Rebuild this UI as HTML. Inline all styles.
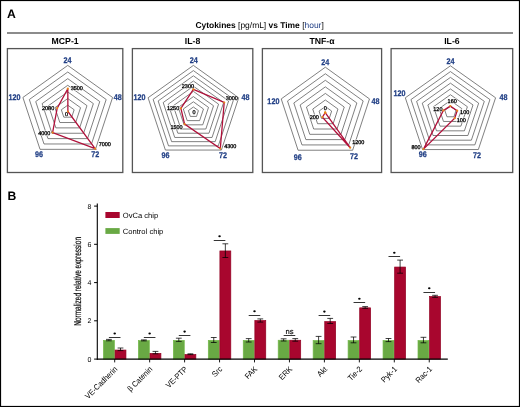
<!DOCTYPE html>
<html><head><meta charset="utf-8"><style>
html,body{margin:0;padding:0;background:#fff;}
svg{display:block;font-family:"Liberation Sans",sans-serif;-webkit-font-smoothing:antialiased;will-change:transform;text-rendering:geometricPrecision;}
</style></head><body>
<svg width="520" height="407" viewBox="0 0 520 407">
<rect x="0.5" y="0.5" width="519" height="406" fill="none" stroke="#000" stroke-width="1.2"/>
<text x="7.1" y="17.7" font-size="12.2" font-weight="bold">A</text>
<text x="259.6" y="27.6" font-size="8.45" text-anchor="middle"><tspan font-weight="bold">Cytokines </tspan>[pg/mL]<tspan font-weight="bold"> vs Time </tspan>[<tspan fill="#213f85">hour</tspan>]</text>
<line x1="7" y1="33.0" x2="513" y2="33.0" stroke="#666" stroke-width="1.6"/>
<rect x="7.4" y="48.6" width="115.4" height="123.9" fill="none" stroke="#555" stroke-width="1.3"/>
<text x="65.1" y="43.7" font-size="8.7" font-weight="bold" text-anchor="middle">MCP-1</text>
<rect x="132.4" y="48.6" width="120.4" height="123.9" fill="none" stroke="#555" stroke-width="1.3"/>
<text x="192.6" y="43.7" font-size="8.7" font-weight="bold" text-anchor="middle">IL-8</text>
<rect x="262.4" y="48.6" width="119.2" height="123.9" fill="none" stroke="#555" stroke-width="1.3"/>
<text x="322.0" y="43.7" font-size="8.7" font-weight="bold" text-anchor="middle">TNF-α</text>
<rect x="391.1" y="48.6" width="121.6" height="123.9" fill="none" stroke="#555" stroke-width="1.3"/>
<text x="451.9" y="43.7" font-size="8.7" font-weight="bold" text-anchor="middle">IL-6</text>
<polygon points="67.75,105.17 74.16,109.75 71.71,117.16 63.79,117.16 61.34,109.75" fill="none" stroke="#555" stroke-width="0.75"/>
<polygon points="67.75,98.54 80.56,107.70 75.67,122.53 59.83,122.53 54.94,107.70" fill="none" stroke="#555" stroke-width="0.75"/>
<polygon points="67.75,91.91 86.97,105.65 79.63,127.89 55.87,127.89 48.53,105.65" fill="none" stroke="#555" stroke-width="0.75"/>
<polygon points="67.75,85.29 93.37,103.61 83.58,133.25 51.92,133.25 42.13,103.61" fill="none" stroke="#555" stroke-width="0.75"/>
<polygon points="67.75,78.66 99.78,101.56 87.54,138.61 47.96,138.61 35.72,101.56" fill="none" stroke="#555" stroke-width="0.75"/>
<polygon points="67.75,72.03 106.18,99.51 91.50,143.98 44.00,143.98 29.32,99.51" fill="none" stroke="#555" stroke-width="0.75"/>
<polygon points="67.75,65.40 112.59,97.46 95.46,149.34 40.04,149.34 22.91,97.46" fill="none" stroke="#555" stroke-width="0.75"/>
<text transform="translate(67.55,63.00) scale(0.88,1)" font-size="8.2" font-weight="bold" fill="#213f85" stroke="#213f85" stroke-width="0.25" text-anchor="middle">24</text>
<text transform="translate(113.80,99.80) scale(0.88,1)" font-size="8.2" font-weight="bold" fill="#213f85" stroke="#213f85" stroke-width="0.25" text-anchor="start">48</text>
<text transform="translate(95.20,156.90) scale(0.88,1)" font-size="8.2" font-weight="bold" fill="#213f85" stroke="#213f85" stroke-width="0.25" text-anchor="middle">72</text>
<text transform="translate(39.05,156.70) scale(0.88,1)" font-size="8.2" font-weight="bold" fill="#213f85" stroke="#213f85" stroke-width="0.25" text-anchor="middle">96</text>
<text transform="translate(20.50,100.20) scale(0.88,1)" font-size="8.2" font-weight="bold" fill="#213f85" stroke="#213f85" stroke-width="0.25" text-anchor="end">120</text>
<text x="70.7" y="89.6" font-size="5.5" fill="#fff" stroke="#fff" stroke-width="1.2">3500</text>
<text x="70.7" y="89.6" font-size="5.5" stroke="#000" stroke-width="0.3">3500</text>
<text x="42.0" y="109.9" font-size="5.5" fill="#fff" stroke="#fff" stroke-width="1.2">2080</text>
<text x="42.0" y="109.9" font-size="5.5" stroke="#000" stroke-width="0.3">2080</text>
<text x="64.9" y="115.6" font-size="5.5" fill="#fff" stroke="#fff" stroke-width="1.2">0</text>
<text x="64.9" y="115.6" font-size="5.5" stroke="#000" stroke-width="0.3">0</text>
<text x="38.2" y="134.8" font-size="5.5" fill="#fff" stroke="#fff" stroke-width="1.2">4000</text>
<text x="38.2" y="134.8" font-size="5.5" stroke="#000" stroke-width="0.3">4000</text>
<text x="98.7" y="146.1" font-size="5.5" fill="#fff" stroke="#fff" stroke-width="1.2">7000</text>
<text x="98.7" y="146.1" font-size="5.5" stroke="#000" stroke-width="0.3">7000</text>
<polygon points="67.80,88.70 67.90,111.50 95.10,148.60 52.60,132.60 57.20,108.10" fill="none" stroke="#b0103a" stroke-width="1.3" stroke-linejoin="miter"/>
<circle cx="67.80" cy="88.70" r="1.1" fill="#e8841a"/>
<circle cx="67.90" cy="111.50" r="1.1" fill="#e8841a"/>
<circle cx="95.10" cy="148.60" r="1.1" fill="#e8841a"/>
<circle cx="52.60" cy="132.60" r="1.1" fill="#e8841a"/>
<circle cx="57.20" cy="108.10" r="1.1" fill="#e8841a"/>
<polygon points="193.40,107.00 198.43,110.59 196.51,116.41 190.29,116.41 188.37,110.59" fill="none" stroke="#555" stroke-width="0.75"/>
<polygon points="193.40,101.80 203.47,108.99 199.62,120.61 187.18,120.61 183.33,108.99" fill="none" stroke="#555" stroke-width="0.75"/>
<polygon points="193.40,96.60 208.50,107.38 202.73,124.82 184.07,124.82 178.30,107.38" fill="none" stroke="#555" stroke-width="0.75"/>
<polygon points="193.40,91.40 213.54,105.77 205.85,129.03 180.95,129.03 173.26,105.77" fill="none" stroke="#555" stroke-width="0.75"/>
<polygon points="193.40,86.20 218.57,104.17 208.96,133.23 177.84,133.23 168.23,104.17" fill="none" stroke="#555" stroke-width="0.75"/>
<polygon points="193.40,81.00 223.61,102.56 212.07,137.44 174.73,137.44 163.19,102.56" fill="none" stroke="#555" stroke-width="0.75"/>
<polygon points="193.40,75.80 228.64,100.95 215.18,141.65 171.62,141.65 158.16,100.95" fill="none" stroke="#555" stroke-width="0.75"/>
<polygon points="193.40,70.60 233.68,99.34 218.29,145.86 168.51,145.86 153.12,99.34" fill="none" stroke="#555" stroke-width="0.75"/>
<polygon points="193.40,65.40 238.71,97.74 221.40,150.06 165.40,150.06 148.09,97.74" fill="none" stroke="#555" stroke-width="0.75"/>
<text transform="translate(193.65,63.00) scale(0.88,1)" font-size="8.2" font-weight="bold" fill="#213f85" stroke="#213f85" stroke-width="0.25" text-anchor="middle">24</text>
<text transform="translate(241.50,99.70) scale(0.88,1)" font-size="8.2" font-weight="bold" fill="#213f85" stroke="#213f85" stroke-width="0.25" text-anchor="start">48</text>
<text transform="translate(223.10,157.90) scale(0.88,1)" font-size="8.2" font-weight="bold" fill="#213f85" stroke="#213f85" stroke-width="0.25" text-anchor="middle">72</text>
<text transform="translate(165.45,157.80) scale(0.88,1)" font-size="8.2" font-weight="bold" fill="#213f85" stroke="#213f85" stroke-width="0.25" text-anchor="middle">96</text>
<text transform="translate(145.60,99.70) scale(0.88,1)" font-size="8.2" font-weight="bold" fill="#213f85" stroke="#213f85" stroke-width="0.25" text-anchor="end">120</text>
<text x="181.8" y="87.5" font-size="5.5" fill="#fff" stroke="#fff" stroke-width="1.2">2300</text>
<text x="181.8" y="87.5" font-size="5.5" stroke="#000" stroke-width="0.3">2300</text>
<text x="225.7" y="100.1" font-size="5.5" fill="#fff" stroke="#fff" stroke-width="1.2">3000</text>
<text x="225.7" y="100.1" font-size="5.5" stroke="#000" stroke-width="0.3">3000</text>
<text x="224.2" y="148.3" font-size="5.5" fill="#fff" stroke="#fff" stroke-width="1.2">4300</text>
<text x="224.2" y="148.3" font-size="5.5" stroke="#000" stroke-width="0.3">4300</text>
<text x="170.4" y="129.2" font-size="5.5" fill="#fff" stroke="#fff" stroke-width="1.2">1500</text>
<text x="170.4" y="129.2" font-size="5.5" stroke="#000" stroke-width="0.3">1500</text>
<text x="167.0" y="110.0" font-size="5.5" fill="#fff" stroke="#fff" stroke-width="1.2">1250</text>
<text x="167.0" y="110.0" font-size="5.5" stroke="#000" stroke-width="0.3">1250</text>
<text x="192.6" y="114.0" font-size="5.5" fill="#fff" stroke="#fff" stroke-width="1.2">0</text>
<text x="192.6" y="114.0" font-size="5.5" stroke="#000" stroke-width="0.3">0</text>
<polygon points="193.40,89.40 224.20,102.50 220.30,148.50 184.60,124.10 180.90,108.30" fill="none" stroke="#b0103a" stroke-width="1.3" stroke-linejoin="miter"/>
<circle cx="193.40" cy="89.40" r="1.1" fill="#e8841a"/>
<circle cx="224.20" cy="102.50" r="1.1" fill="#e8841a"/>
<circle cx="220.30" cy="148.50" r="1.1" fill="#e8841a"/>
<circle cx="184.60" cy="124.10" r="1.1" fill="#e8841a"/>
<circle cx="180.90" cy="108.30" r="1.1" fill="#e8841a"/>
<polygon points="325.35,106.54 331.65,111.07 329.25,118.40 321.45,118.40 319.05,111.07" fill="none" stroke="#555" stroke-width="0.75"/>
<polygon points="325.35,99.99 337.96,109.05 333.14,123.71 317.56,123.71 312.74,109.05" fill="none" stroke="#555" stroke-width="0.75"/>
<polygon points="325.35,93.43 344.26,107.02 337.04,129.01 313.66,129.01 306.44,107.02" fill="none" stroke="#555" stroke-width="0.75"/>
<polygon points="325.35,86.87 350.57,104.99 340.94,134.32 309.76,134.32 300.13,104.99" fill="none" stroke="#555" stroke-width="0.75"/>
<polygon points="325.35,80.31 356.87,102.97 344.83,139.62 305.87,139.62 293.83,102.97" fill="none" stroke="#555" stroke-width="0.75"/>
<polygon points="325.35,73.76 363.18,100.94 348.73,144.93 301.97,144.93 287.52,100.94" fill="none" stroke="#555" stroke-width="0.75"/>
<polygon points="325.35,67.20 369.48,98.92 352.63,150.23 298.07,150.23 281.22,98.92" fill="none" stroke="#555" stroke-width="0.75"/>
<text transform="translate(325.20,64.60) scale(0.88,1)" font-size="8.2" font-weight="bold" fill="#213f85" stroke="#213f85" stroke-width="0.25" text-anchor="middle">24</text>
<text transform="translate(371.50,103.70) scale(0.88,1)" font-size="8.2" font-weight="bold" fill="#213f85" stroke="#213f85" stroke-width="0.25" text-anchor="start">48</text>
<text transform="translate(353.90,159.40) scale(0.88,1)" font-size="8.2" font-weight="bold" fill="#213f85" stroke="#213f85" stroke-width="0.25" text-anchor="middle">72</text>
<text transform="translate(297.85,159.60) scale(0.88,1)" font-size="8.2" font-weight="bold" fill="#213f85" stroke="#213f85" stroke-width="0.25" text-anchor="middle">96</text>
<text transform="translate(279.40,103.70) scale(0.88,1)" font-size="8.2" font-weight="bold" fill="#213f85" stroke="#213f85" stroke-width="0.25" text-anchor="end">120</text>
<text x="323.7" y="109.8" font-size="5.5" fill="#fff" stroke="#fff" stroke-width="1.2">0</text>
<text x="323.7" y="109.8" font-size="5.5" stroke="#000" stroke-width="0.3">0</text>
<text x="309.7" y="119.0" font-size="5.5" fill="#fff" stroke="#fff" stroke-width="1.2">200</text>
<text x="309.7" y="119.0" font-size="5.5" stroke="#000" stroke-width="0.3">200</text>
<text x="352.2" y="144.4" font-size="5.5" fill="#fff" stroke="#fff" stroke-width="1.2">1200</text>
<text x="352.2" y="144.4" font-size="5.5" stroke="#000" stroke-width="0.3">1200</text>
<polygon points="325.20,112.70 325.20,112.70 350.20,147.70 322.40,117.10 325.20,112.70" fill="none" stroke="#b0103a" stroke-width="1.3" stroke-linejoin="miter"/>
<circle cx="325.20" cy="112.70" r="1.1" fill="#e8841a"/>
<circle cx="325.20" cy="112.70" r="1.1" fill="#e8841a"/>
<circle cx="350.20" cy="147.70" r="1.1" fill="#e8841a"/>
<circle cx="322.40" cy="117.10" r="1.1" fill="#e8841a"/>
<circle cx="325.20" cy="112.70" r="1.1" fill="#e8841a"/>
<polygon points="450.45,106.31 456.09,110.31 453.94,116.78 446.96,116.78 444.81,110.31" fill="none" stroke="#555" stroke-width="0.75"/>
<polygon points="450.45,100.52 461.73,108.52 457.42,121.46 443.48,121.46 439.17,108.52" fill="none" stroke="#555" stroke-width="0.75"/>
<polygon points="450.45,94.74 467.38,106.73 460.91,126.15 439.99,126.15 433.52,106.73" fill="none" stroke="#555" stroke-width="0.75"/>
<polygon points="450.45,88.95 473.02,104.95 464.40,130.83 436.50,130.83 427.88,104.95" fill="none" stroke="#555" stroke-width="0.75"/>
<polygon points="450.45,83.16 478.66,103.16 467.88,135.51 433.02,135.51 422.24,103.16" fill="none" stroke="#555" stroke-width="0.75"/>
<polygon points="450.45,77.38 484.30,101.37 471.37,140.19 429.53,140.19 416.60,101.37" fill="none" stroke="#555" stroke-width="0.75"/>
<polygon points="450.45,71.59 489.94,99.58 474.86,144.88 426.04,144.88 410.96,99.58" fill="none" stroke="#555" stroke-width="0.75"/>
<polygon points="450.45,65.80 495.58,97.79 478.34,149.56 422.56,149.56 405.32,97.79" fill="none" stroke="#555" stroke-width="0.75"/>
<text transform="translate(450.40,63.80) scale(0.88,1)" font-size="8.2" font-weight="bold" fill="#213f85" stroke="#213f85" stroke-width="0.25" text-anchor="middle">24</text>
<text transform="translate(499.50,99.70) scale(0.88,1)" font-size="8.2" font-weight="bold" fill="#213f85" stroke="#213f85" stroke-width="0.25" text-anchor="start">48</text>
<text transform="translate(477.00,157.70) scale(0.88,1)" font-size="8.2" font-weight="bold" fill="#213f85" stroke="#213f85" stroke-width="0.25" text-anchor="middle">72</text>
<text transform="translate(422.70,157.00) scale(0.88,1)" font-size="8.2" font-weight="bold" fill="#213f85" stroke="#213f85" stroke-width="0.25" text-anchor="middle">96</text>
<text transform="translate(405.60,95.60) scale(0.88,1)" font-size="8.2" font-weight="bold" fill="#213f85" stroke="#213f85" stroke-width="0.25" text-anchor="end">120</text>
<text x="447.6" y="103.3" font-size="5.5" fill="#fff" stroke="#fff" stroke-width="1.2">160</text>
<text x="447.6" y="103.3" font-size="5.5" stroke="#000" stroke-width="0.3">160</text>
<text x="433.3" y="111.1" font-size="5.5" fill="#fff" stroke="#fff" stroke-width="1.2">120</text>
<text x="433.3" y="111.1" font-size="5.5" stroke="#000" stroke-width="0.3">120</text>
<text x="460.1" y="113.7" font-size="5.5" fill="#fff" stroke="#fff" stroke-width="1.2">100</text>
<text x="460.1" y="113.7" font-size="5.5" stroke="#000" stroke-width="0.3">100</text>
<text x="456.7" y="121.5" font-size="5.5" fill="#fff" stroke="#fff" stroke-width="1.2">100</text>
<text x="456.7" y="121.5" font-size="5.5" stroke="#000" stroke-width="0.3">100</text>
<text x="411.4" y="148.7" font-size="5.5" fill="#fff" stroke="#fff" stroke-width="1.2">800</text>
<text x="411.4" y="148.7" font-size="5.5" stroke="#000" stroke-width="0.3">800</text>
<polygon points="450.30,106.10 457.20,110.70 454.70,118.20 423.50,149.10 443.40,110.40" fill="none" stroke="#b0103a" stroke-width="1.3" stroke-linejoin="miter"/>
<circle cx="450.30" cy="106.10" r="1.1" fill="#e8841a"/>
<circle cx="457.20" cy="110.70" r="1.1" fill="#e8841a"/>
<circle cx="454.70" cy="118.20" r="1.1" fill="#e8841a"/>
<circle cx="423.50" cy="149.10" r="1.1" fill="#e8841a"/>
<circle cx="443.40" cy="110.40" r="1.1" fill="#e8841a"/>
<text x="7.6" y="199.6" font-size="12.2" font-weight="bold">B</text>
<line x1="97.3" y1="203.5" x2="97.3" y2="359.70000000000005" stroke="#000" stroke-width="1.1"/>
<line x1="94.1" y1="359.1" x2="97.3" y2="359.1" stroke="#000" stroke-width="1"/>
<text x="91.3" y="361.6" font-size="7" text-anchor="end">0</text>
<line x1="94.1" y1="320.8" x2="97.3" y2="320.8" stroke="#000" stroke-width="1"/>
<text x="91.3" y="323.3" font-size="7" text-anchor="end">2</text>
<line x1="94.1" y1="282.6" x2="97.3" y2="282.6" stroke="#000" stroke-width="1"/>
<text x="91.3" y="285.1" font-size="7" text-anchor="end">4</text>
<line x1="94.1" y1="244.3" x2="97.3" y2="244.3" stroke="#000" stroke-width="1"/>
<text x="91.3" y="246.8" font-size="7" text-anchor="end">6</text>
<line x1="94.1" y1="206.1" x2="97.3" y2="206.1" stroke="#000" stroke-width="1"/>
<text x="91.3" y="208.6" font-size="7" text-anchor="end">8</text>
<text transform="translate(80.9,325.8) rotate(-90)" font-size="10" textLength="88.8" lengthAdjust="spacingAndGlyphs" stroke="#000" stroke-width="0.2">Normalized relative expression</text>
<rect x="105.4" y="212" width="14.3" height="6" fill="#a8062e"/>
<rect x="105.4" y="228.1" width="14.3" height="5.8" fill="#69a944"/>
<text x="122.8" y="217.8" font-size="7.6">OvCa chip</text>
<text x="122.8" y="233.9" font-size="7.6">Control chip</text>
<rect x="103.45" y="340.35" width="10.90" height="18.75" fill="#69a944" stroke="#72b947" stroke-width="0.7"/>
<rect x="115.05" y="350.05" width="10.90" height="9.05" fill="#a8062e" stroke="#920022" stroke-width="0.7"/>
<path d="M108.90,339.40V340.80M106.00,339.40h5.8M106.00,340.80h5.8" stroke="#000" stroke-width="0.75" fill="none"/>
<path d="M120.50,348.00V350.60M117.60,348.00h5.8M117.60,350.60h5.8" stroke="#000" stroke-width="0.75" fill="none"/>
<line x1="108.90" y1="337.5" x2="120.50" y2="337.5" stroke="#111" stroke-width="0.85"/>
<ellipse cx="114.70" cy="333.5" rx="1.25" ry="1.05" fill="#000"/>
<line x1="114.70" y1="359.1" x2="114.70" y2="362.40000000000003" stroke="#000" stroke-width="0.9"/>
<text transform="translate(118.00,369.7) rotate(-45) scale(0.92,1)" font-size="8.0" text-anchor="end">VE-Cadherin</text>
<rect x="138.40" y="340.65" width="10.90" height="18.45" fill="#69a944" stroke="#72b947" stroke-width="0.7"/>
<rect x="150.00" y="353.45" width="10.90" height="5.65" fill="#a8062e" stroke="#920022" stroke-width="0.7"/>
<path d="M143.85,339.90V340.90M140.95,339.90h5.8M140.95,340.90h5.8" stroke="#000" stroke-width="0.75" fill="none"/>
<path d="M155.45,351.40V353.80M152.55,351.40h5.8M152.55,353.80h5.8" stroke="#000" stroke-width="0.75" fill="none"/>
<line x1="143.85" y1="337.5" x2="155.45" y2="337.5" stroke="#111" stroke-width="0.85"/>
<ellipse cx="149.65" cy="333.5" rx="1.25" ry="1.05" fill="#000"/>
<line x1="149.65" y1="359.1" x2="149.65" y2="362.40000000000003" stroke="#000" stroke-width="0.9"/>
<text transform="translate(152.95,369.7) rotate(-45) scale(0.92,1)" font-size="8.0" text-anchor="end">β Catenin</text>
<rect x="173.35" y="340.45" width="10.90" height="18.65" fill="#69a944" stroke="#72b947" stroke-width="0.7"/>
<rect x="184.95" y="354.55" width="10.90" height="4.55" fill="#a8062e" stroke="#920022" stroke-width="0.7"/>
<path d="M178.80,338.20V341.40M175.90,338.20h5.8M175.90,341.40h5.8" stroke="#000" stroke-width="0.75" fill="none"/>
<path d="M190.40,353.80V354.60M187.50,353.80h5.8M187.50,354.60h5.8" stroke="#000" stroke-width="0.75" fill="none"/>
<line x1="178.80" y1="335.5" x2="190.40" y2="335.5" stroke="#111" stroke-width="0.85"/>
<ellipse cx="184.60" cy="331.6" rx="1.25" ry="1.05" fill="#000"/>
<line x1="184.60" y1="359.1" x2="184.60" y2="362.40000000000003" stroke="#000" stroke-width="0.9"/>
<text transform="translate(187.90,369.7) rotate(-45) scale(0.92,1)" font-size="8.0" text-anchor="end">VE-PTP</text>
<rect x="208.30" y="340.35" width="10.90" height="18.75" fill="#69a944" stroke="#72b947" stroke-width="0.7"/>
<rect x="219.90" y="250.95" width="10.90" height="108.15" fill="#a8062e" stroke="#920022" stroke-width="0.7"/>
<path d="M213.75,337.50V342.50M210.85,337.50h5.8M210.85,342.50h5.8" stroke="#000" stroke-width="0.75" fill="none"/>
<path d="M225.35,243.80V257.50M222.45,243.80h5.8M222.45,257.50h5.8" stroke="#000" stroke-width="0.75" fill="none"/>
<line x1="213.75" y1="240.5" x2="225.35" y2="240.5" stroke="#111" stroke-width="0.85"/>
<ellipse cx="219.55" cy="236.2" rx="1.25" ry="1.05" fill="#000"/>
<line x1="219.55" y1="359.1" x2="219.55" y2="362.40000000000003" stroke="#000" stroke-width="0.9"/>
<text transform="translate(222.85,369.7) rotate(-45) scale(0.92,1)" font-size="8.0" text-anchor="end">Src</text>
<rect x="243.25" y="340.45" width="10.90" height="18.65" fill="#69a944" stroke="#72b947" stroke-width="0.7"/>
<rect x="254.85" y="320.55" width="10.90" height="38.55" fill="#a8062e" stroke="#920022" stroke-width="0.7"/>
<path d="M248.70,338.60V342.00M245.80,338.60h5.8M245.80,342.00h5.8" stroke="#000" stroke-width="0.75" fill="none"/>
<path d="M260.30,318.90V322.10M257.40,318.90h5.8M257.40,322.10h5.8" stroke="#000" stroke-width="0.75" fill="none"/>
<line x1="248.70" y1="315.5" x2="260.30" y2="315.5" stroke="#111" stroke-width="0.85"/>
<ellipse cx="254.50" cy="311.3" rx="1.25" ry="1.05" fill="#000"/>
<line x1="254.50" y1="359.1" x2="254.50" y2="362.40000000000003" stroke="#000" stroke-width="0.9"/>
<text transform="translate(257.80,369.7) rotate(-45) scale(0.92,1)" font-size="8.0" text-anchor="end">FAK</text>
<rect x="278.20" y="340.25" width="10.90" height="18.85" fill="#69a944" stroke="#72b947" stroke-width="0.7"/>
<rect x="289.80" y="340.25" width="10.90" height="18.85" fill="#a8062e" stroke="#920022" stroke-width="0.7"/>
<path d="M283.65,338.80V341.00M280.75,338.80h5.8M280.75,341.00h5.8" stroke="#000" stroke-width="0.75" fill="none"/>
<path d="M295.25,338.60V341.20M292.35,338.60h5.8M292.35,341.20h5.8" stroke="#000" stroke-width="0.75" fill="none"/>
<line x1="283.65" y1="335.5" x2="295.25" y2="335.5" stroke="#111" stroke-width="0.85"/>
<text x="289.45" y="333.7" font-size="7.6" text-anchor="middle" stroke="#000" stroke-width="0.15">ns</text>
<line x1="289.45" y1="359.1" x2="289.45" y2="362.40000000000003" stroke="#000" stroke-width="0.9"/>
<text transform="translate(292.75,369.7) rotate(-45) scale(0.92,1)" font-size="8.0" text-anchor="end">ERK</text>
<rect x="313.15" y="340.55" width="10.90" height="18.55" fill="#69a944" stroke="#72b947" stroke-width="0.7"/>
<rect x="324.75" y="321.65" width="10.90" height="37.45" fill="#a8062e" stroke="#920022" stroke-width="0.7"/>
<path d="M318.60,336.40V343.70M315.70,336.40h5.8M315.70,343.70h5.8" stroke="#000" stroke-width="0.75" fill="none"/>
<path d="M330.20,318.40V323.50M327.30,318.40h5.8M327.30,323.50h5.8" stroke="#000" stroke-width="0.75" fill="none"/>
<line x1="318.60" y1="315.5" x2="330.20" y2="315.5" stroke="#111" stroke-width="0.85"/>
<ellipse cx="324.40" cy="311.6" rx="1.25" ry="1.05" fill="#000"/>
<line x1="324.40" y1="359.1" x2="324.40" y2="362.40000000000003" stroke="#000" stroke-width="0.9"/>
<text transform="translate(327.70,369.7) rotate(-45) scale(0.92,1)" font-size="8.0" text-anchor="end">Akt</text>
<rect x="348.10" y="340.55" width="10.90" height="18.55" fill="#69a944" stroke="#72b947" stroke-width="0.7"/>
<rect x="359.70" y="307.85" width="10.90" height="51.25" fill="#a8062e" stroke="#920022" stroke-width="0.7"/>
<path d="M353.55,337.00V342.80M350.65,337.00h5.8M350.65,342.80h5.8" stroke="#000" stroke-width="0.75" fill="none"/>
<path d="M365.15,306.60V308.30M362.25,306.60h5.8M362.25,308.30h5.8" stroke="#000" stroke-width="0.75" fill="none"/>
<line x1="353.55" y1="302.5" x2="365.15" y2="302.5" stroke="#111" stroke-width="0.85"/>
<ellipse cx="359.35" cy="298.7" rx="1.25" ry="1.05" fill="#000"/>
<line x1="359.35" y1="359.1" x2="359.35" y2="362.40000000000003" stroke="#000" stroke-width="0.9"/>
<text transform="translate(362.65,369.7) rotate(-45) scale(0.92,1)" font-size="8.0" text-anchor="end">Tie-2</text>
<rect x="383.05" y="340.55" width="10.90" height="18.55" fill="#69a944" stroke="#72b947" stroke-width="0.7"/>
<rect x="394.65" y="267.05" width="10.90" height="92.05" fill="#a8062e" stroke="#920022" stroke-width="0.7"/>
<path d="M388.50,338.50V341.60M385.60,338.50h5.8M385.60,341.60h5.8" stroke="#000" stroke-width="0.75" fill="none"/>
<path d="M400.10,260.10V273.20M397.20,260.10h5.8M397.20,273.20h5.8" stroke="#000" stroke-width="0.75" fill="none"/>
<line x1="388.50" y1="256.5" x2="400.10" y2="256.5" stroke="#111" stroke-width="0.85"/>
<ellipse cx="394.30" cy="252.8" rx="1.25" ry="1.05" fill="#000"/>
<line x1="394.30" y1="359.1" x2="394.30" y2="362.40000000000003" stroke="#000" stroke-width="0.9"/>
<text transform="translate(397.60,369.7) rotate(-45) scale(0.92,1)" font-size="8.0" text-anchor="end">Pyk-1</text>
<rect x="418.00" y="340.55" width="10.90" height="18.55" fill="#69a944" stroke="#72b947" stroke-width="0.7"/>
<rect x="429.60" y="296.55" width="10.90" height="62.55" fill="#a8062e" stroke="#920022" stroke-width="0.7"/>
<path d="M423.45,337.30V342.80M420.55,337.30h5.8M420.55,342.80h5.8" stroke="#000" stroke-width="0.75" fill="none"/>
<path d="M435.05,295.30V297.30M432.15,295.30h5.8M432.15,297.30h5.8" stroke="#000" stroke-width="0.75" fill="none"/>
<line x1="423.45" y1="292.5" x2="435.05" y2="292.5" stroke="#111" stroke-width="0.85"/>
<ellipse cx="429.25" cy="288.2" rx="1.25" ry="1.05" fill="#000"/>
<line x1="429.25" y1="359.1" x2="429.25" y2="362.40000000000003" stroke="#000" stroke-width="0.9"/>
<text transform="translate(432.55,369.7) rotate(-45) scale(0.92,1)" font-size="8.0" text-anchor="end">Rac-1</text>
<line x1="96.8" y1="359.1" x2="447.8" y2="359.1" stroke="#000" stroke-width="1.2"/>
</svg>
</body></html>
